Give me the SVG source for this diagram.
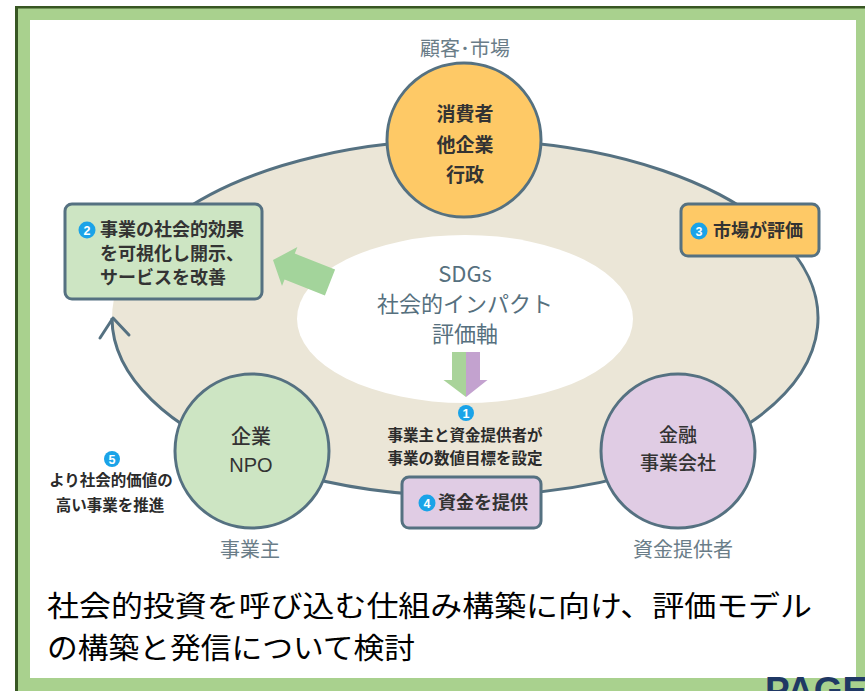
<svg xmlns="http://www.w3.org/2000/svg" width="865" height="691" viewBox="0 0 865 691">
<style>
.jp{font-family:"Noto Sans CJK JP","Noto Sans",sans-serif}
.ln{fill:none;stroke:#557181;stroke-width:3}
.sh{stroke:#557181;stroke-width:3}
.lab{fill:#6a7d88;font-size:20px;text-anchor:middle}
.ctext{fill:#333;font-size:19px;font-weight:700;text-anchor:middle}
.btext{fill:#333;font-size:18px;font-weight:700}
.small{fill:#2b2b2b;font-size:15.5px;font-weight:700;text-anchor:middle}
.badge{fill:#1aa3e8}
.bnum{fill:#fff;font-family:"Liberation Sans",Arial,sans-serif;font-size:12.5px;font-weight:700;text-anchor:middle}
</style>
<g id="frame">
<rect x="16" y="6" width="849" height="685" fill="#a9d18e"/>
<rect x="15" y="6" width="850" height="2.5" fill="#385723"/>
<rect x="15" y="6" width="3" height="685" fill="#385723"/>
<rect x="30" y="20" width="826" height="658" fill="#fff"/>
</g>
<g id="cycle-area">
<ellipse cx="465" cy="318" rx="353" ry="178" fill="#ebe6d7"/>
</g>
<g id="connectors">
<path class="ln" d="M112 318 A353 178 0 1 0 114 299"/>
<polyline class="ln" points="100,338 113,318 129,335" stroke-linecap="round" stroke-linejoin="round"/>
<ellipse id="axis-ellipse" cx="465" cy="319" rx="168" ry="84" fill="#fff"/>
<polygon points="273,260 297.4,247.1 294.8,253.6 335.1,269.5 324.9,295.5 284.6,279.6 282,286.1" fill="#a3d49b"/>
<polygon points="452,352 466,352 466,397 443.5,380 452,380" fill="#a9d39a"/>
<polygon points="466,352 480,352 480,380 487.5,380 466,397" fill="#c3a2cf"/>
</g>
<g id="axis" class="jp" fill="#56707e" font-size="22" text-anchor="middle">
<text x="465" y="282">SDGs</text>
<text x="465" y="312">社会的インパクト</text>
<text x="465" y="342">評価軸</text>
</g>
<g id="market">
<circle cx="464" cy="140" r="77" fill="#fec966" class="sh"/>
<text class="jp ctext" x="465" y="121">消費者</text>
<text class="jp ctext" x="465" y="152">他企業</text>
<text class="jp ctext" x="465" y="182">行政</text>
<text class="jp lab" x="465" y="56">顧客･市場</text>
</g>
<g id="business">
<circle cx="252" cy="451" r="77" fill="#cde5c3" class="sh"/>
<text class="jp" x="251" y="444" fill="#333" font-size="20" font-weight="500" text-anchor="middle">企業</text>
<text x="251" y="472" fill="#333" font-family="Liberation Sans,Arial,sans-serif" font-size="20" text-anchor="middle">NPO</text>
<text class="jp lab" x="250" y="557" font-size="21">事業主</text>
</g>
<g id="funder">
<circle cx="678" cy="451" r="77" fill="#e0cce4" class="sh"/>
<text class="jp" x="678" y="442" fill="#333" font-size="19" font-weight="500" text-anchor="middle">金融</text>
<text class="jp" x="678" y="470" fill="#333" font-size="19" font-weight="500" text-anchor="middle">事業会社</text>
<text class="jp lab" x="683" y="557" font-size="21">資金提供者</text>
</g>
<g id="step2">
<rect x="65" y="204" width="197" height="95" rx="7" fill="#cde5c3" class="sh"/>
<circle class="badge" cx="87" cy="230" r="8.5"/>
<text class="bnum" x="87" y="234.5">2</text>
<text class="jp btext" x="100" y="236">事業の社会的効果</text>
<text class="jp btext" x="100" y="260">を可視化し開示、</text>
<text class="jp btext" x="100" y="284">サービスを改善</text>
</g>
<g id="step3">
<rect x="681" y="204" width="138" height="52" rx="7" fill="#fec966" class="sh"/>
<circle class="badge" cx="699" cy="231" r="8.5"/>
<text class="bnum" x="699" y="235.5">3</text>
<text class="jp btext" x="713" y="237">市場が評価</text>
</g>
<g id="step1">
<circle class="badge" cx="466" cy="413" r="8"/>
<text class="bnum" x="466" y="417.5">1</text>
<text class="jp small" x="465" y="441" font-size="16">事業主と資金提供者が</text>
<text class="jp small" x="465" y="464" font-size="16">事業の数値目標を設定</text>
</g>
<g id="step4">
<rect x="402" y="477" width="139" height="51" rx="7" fill="#e0cce4" class="sh"/>
<circle class="badge" cx="427" cy="503" r="8.5"/>
<text class="bnum" x="427" y="507.5">4</text>
<text class="jp btext" x="438" y="509">資金を提供</text>
</g>
<g id="step5">
<circle class="badge" cx="112" cy="459" r="8"/>
<text class="bnum" x="112" y="463.5">5</text>
<text class="jp small" x="111" y="486">より社会的価値の</text>
<text class="jp small" x="110" y="511">高い事業を推進</text>
</g>
<g id="summary" class="jp" fill="#000" font-size="29">
<text x="47" y="617" textLength="765" lengthAdjust="spacingAndGlyphs">社会的投資を呼び込む仕組み構築に向け、評価モデル</text>
<text x="47" y="659" textLength="368" lengthAdjust="spacingAndGlyphs">の構築と発信について検討</text>
</g>
<text x="765" y="703" fill="#1f3864" font-family="Liberation Sans,Arial,sans-serif" font-size="37" font-weight="700">PAGE</text>
</svg>
